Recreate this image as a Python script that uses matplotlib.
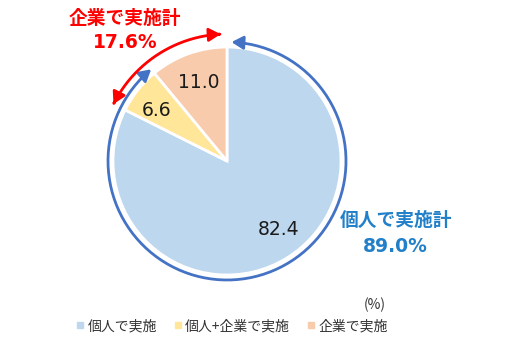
import numpy as np
import matplotlib
matplotlib.use("Agg")
import matplotlib.pyplot as plt
from matplotlib.patches import FancyArrowPatch
from matplotlib.path import Path
from matplotlib.lines import Line2D

plt.rcParams['font.family'] = ['Noto Sans CJK JP', 'DejaVu Sans']

categories = ["個人で実施", "個人+企業で実施", "企業で実施"]
values = [82.4, 6.6, 11.0]
colors = ["#BDD7EE", "#FFE699", "#F8CBAD"]
individual_total = 89.0
company_total = 17.6

W, H = 520, 339
fig = plt.figure(figsize=(W / 100, H / 100), dpi=100)
ax = fig.add_axes([0, 0, 1, 1])
cx, cy, R = 227, 339 - 161, 114

wedges, _ = ax.pie(values, colors=colors, startangle=90, counterclock=False,
                   center=(cx, cy), radius=R,
                   wedgeprops=dict(edgecolor="white", linewidth=2))
ax.set_xlim(0, W)
ax.set_ylim(0, H)
ax.set_aspect("equal")
ax.axis("off")

# data labels
cum = np.cumsum([0] + values)
radii = [0.75, 0.76, 0.73]
dang = [5.0, 3.0, 0.0]
for i, v in enumerate(values):
    mid = (cum[i] + cum[i + 1]) / 2 / 100
    ang = np.deg2rad(90 - 360 * mid + dang[i])
    rr = radii[i] * R
    ax.text(cx + rr * np.cos(ang), cy + rr * np.sin(ang), f"{v:.1f}",
            ha="center", va="center", fontsize=13.5, color="#1a1a1a",
            family=['DejaVu Sans'])


def arc_arrow(f0, f1, r, color):
    angs = np.deg2rad(90 - 360 * np.linspace(f0, f1, 200))
    pts = np.column_stack([cx + r * np.cos(angs), cy + r * np.sin(angs)])
    path = Path(pts)
    p = FancyArrowPatch(path=path, arrowstyle="<|-|>,head_length=7,head_width=4",
                        color=color, linewidth=2, shrinkA=0, shrinkB=0)
    ax.add_patch(p)


arc_arrow(0.006, individual_total / 100, 119, "#4472C4")
arc_arrow(values[0] / 100, 0.992, 127, "#FF0000")

ax.text(125, H - 19, "企業で実施計", ha="center", va="center", fontsize=13.5,
        fontweight="bold", color="#FF0000")
ax.text(125, H - 43, f"{company_total:.1f}%", ha="center", va="center",
        fontsize=13.5, fontweight="bold", color="#FF0000", family=['DejaVu Sans'])
ax.text(396, H - 220, "個人で実施計", ha="center", va="center", fontsize=13.5,
        fontweight="bold", color="#2180C8")
ax.text(395, H - 246, f"{individual_total:.1f}%", ha="center", va="center",
        fontsize=13.5, fontweight="bold", color="#2180C8", family=['DejaVu Sans'])

ax.text(375, H - 305, "(%)", ha="center", va="center", fontsize=10, color="#333333")

handles = [Line2D([0], [0], marker="s", linestyle="none", markersize=5,
                  markerfacecolor=c, markeredgecolor=c) for c in colors]
leg = ax.legend(handles, categories, ncol=3, loc="center",
                bbox_to_anchor=(231 / W, 1 - 326 / H), frameon=False,
                fontsize=10, handletextpad=0.15, columnspacing=1.1,
                handlelength=0.8, labelcolor="#333333")

fig.savefig("out.png", dpi=100)
